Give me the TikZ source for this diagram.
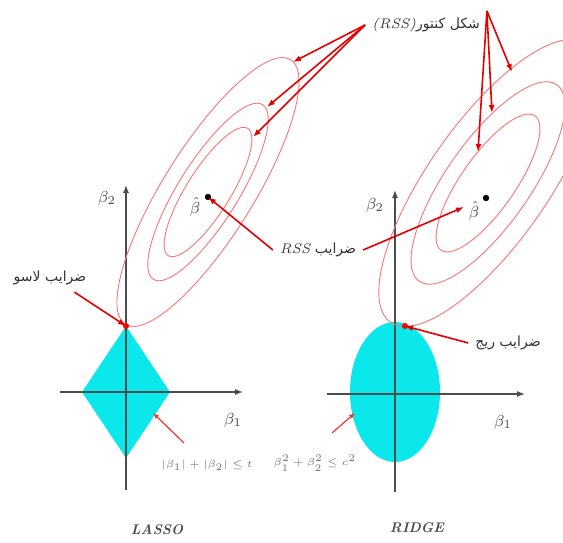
\documentclass[tikz,border=0pt]{standalone}
\usepackage{fontspec}
\newfontfamily\arabicfont[Script=Arabic]{DejaVu Sans}
\TeXXeTstate=1
\usetikzlibrary{arrows.meta,positioning}

\definecolor{regioncyan}{RGB}{10,232,236}
\tikzset{
  contour/.style={draw=red!55, line width=0.45pt},
  redarrow/.style={draw=red!90!black, line width=0.8pt, -{Latex[length=4pt,width=3pt]}},
  thinarrow/.style={draw=red!80, line width=0.6pt, -{Latex[length=3pt,width=2.5pt]}},
  axis/.style={draw=black!70, line width=0.6pt, -{Latex[length=4pt,width=3pt]}},
  arlabel/.style={font=\arabicfont\scriptsize, text=black!80},
  eqlabel/.style={font=\tiny, text=black!55},
  betalabel/.style={font=\footnotesize, text=black!70},
  namelabel/.style={font=\scriptsize\bfseries\itshape, text=black!70}
}

\begin{document}
\begin{tikzpicture}[x=0.5pt,y=-0.5pt]
    \useasboundingbox (0,0) rectangle (563,542);
    % constraint regions
    \fill[regioncyan] (126,326) -- (170,392) -- (126,458) -- (82,392) -- cycle;
    \fill[regioncyan] (395,392) ellipse [x radius=45, y radius=70];
    % axes
    \draw[axis] (60,392) -- (243,392);
    \draw[axis] (126,490) -- (126,185);
    \draw[axis] (327,394) -- (525,394);
    \draw[axis] (395,492) -- (395,190);
    % RSS contours
    \foreach \a/\b in {156/45,103/30,75/22}
        \draw[contour, rotate around={58:(208,192)}] (208,192) ellipse [x radius=\a, y radius=\b];
    \foreach \a/\b in {170/60,120/42,82/27}
        \draw[contour, rotate around={55:(488,183)}] (488,183) ellipse [x radius=\a, y radius=\b];
    % points
    \coordinate (lassopt) at (126,326);
    \coordinate (ridgept) at (405,326);
    \coordinate (lassohat) at (208,197);
    \coordinate (ridgehat) at (486,198);
    \coordinate (ridgeb) at (464,207);
    \coordinate (lc1) at (293,62);
    \coordinate (lc2) at (267,107);
    \coordinate (lc3) at (253,137);
    \coordinate (rc1) at (512,72);
    \coordinate (rc2) at (492,113);
    \coordinate (rc3) at (478,152);
    \coordinate (lassoin) at (153,413);
    \coordinate (ridgein) at (355,413);
    \coordinate (lassotail) at (184,443);
    \coordinate (ridgetail) at (332,433);
    \fill[red] (lassopt) circle (3);
    \fill[red] (ridgept) circle (3);
    \fill[black] (lassohat) circle (3.2);
    \fill[black] (ridgehat) circle (3.2);
    % labels
    \node[betalabel] (lb2) at (107,198) {$\beta_2$};
    \node[betalabel] (lb1) at (233,420) {$\beta_1$};
    \node[betalabel] (rb2) at (375,205) {$\beta_2$};
    \node[betalabel] (rb1) at (503,422) {$\beta_1$};
    \node[betalabel] (lbhat) at (195,207) {$\hat{\beta}$};
    \node[betalabel] (rbhat) at (474,211) {$\hat{\beta}$};
    \node[arlabel] (contlbl) at (426,25) {{\normalfont\itshape (RSS)}\beginR شكل كنتور\endR};
    \node[arlabel] (rsslbl) at (318,250) {{\normalfont\itshape RSS} \beginR ضرايب\endR};
    \node[arlabel] (lassolbl) at (50,278) {\beginR ضرايب لاسو\endR};
    \node[arlabel] (ridgelbl) at (508,343) {\beginR ضرايب ريج\endR};
    \node[eqlabel] (lassoeq) at (207,465) {$|\beta_1|+|\beta_2|\leq t$};
    \node[eqlabel] (ridgeeq) at (315,463) {$\beta_1^2+\beta_2^2\leq c^2$};
    \node[namelabel] (lassoname) at (157,530) {LASSO};
    \node[namelabel] (ridgename) at (417,528) {RIDGE};
    % arrows
    \draw[redarrow] (contlbl.west) -- (lc1);
    \draw[redarrow] (contlbl.west) -- (lc2);
    \draw[redarrow] (contlbl.west) -- (lc3);
    \draw[redarrow] (contlbl.north east) -- (rc1);
    \draw[redarrow] (contlbl.north east) -- (rc2);
    \draw[redarrow] (contlbl.north east) -- (rc3);
    \draw[redarrow] (rsslbl.west) -- (lassohat);
    \draw[redarrow] (rsslbl.east) -- (ridgeb);
    \draw[redarrow] (lassolbl.-30) -- (lassopt);
    \draw[redarrow] (ridgelbl.west) -- (ridgept);
    \draw[thinarrow] (lassotail) -- (lassoin);
    \draw[thinarrow] (ridgetail) -- (ridgein);
\end{tikzpicture}
\end{document}
